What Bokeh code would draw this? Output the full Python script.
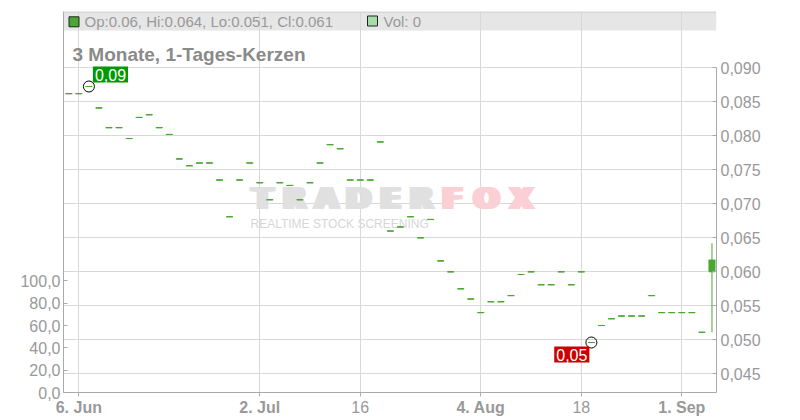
from bokeh.plotting import figure
from bokeh.models import (Range1d, LinearAxis, FixedTicker, Label, BoxAnnotation, Span,
                          ColumnDataSource, CustomJSTickFormatter)
from bokeh.core.properties import value
from bokeh.embed import file_html
from bokeh.resources import INLINE

# ---------------- data ----------------
# flat one-day candles (open = high = low = close), trading-day index 0..63
flat_prices = [0.0862, 0.0862, 0.08725, 0.0841, 0.0812, 0.0812, 0.0796, 0.0827, 0.0831, 0.0812,
               0.0802, 0.0766, 0.0756, 0.0760, 0.0760, 0.0735, 0.0681, 0.0735, 0.0760, 0.0731,
               0.0706, 0.0731, 0.0727, 0.0706, 0.0731, 0.0760, 0.0787, 0.0781, 0.0735, 0.0735,
               0.0735, 0.0791, 0.0660, 0.0666, 0.0681, 0.0650, 0.0677, 0.0616, 0.0600, 0.0575,
               0.0560, 0.0540, 0.0556, 0.0556, 0.0565, 0.0596, 0.0600, 0.0581, 0.0581, 0.0600,
               0.0581, 0.0600, 0.0496, 0.0521, 0.0531, 0.0535, 0.0535, 0.0535, 0.0565, 0.0540,
               0.0540, 0.0540, 0.0540, 0.0511]
# last candle
last_open, last_high, last_low, last_close = 0.0600, 0.0642, 0.0511, 0.0617

opens = flat_prices + [last_open]
highs = flat_prices + [last_high]
lows = flat_prices + [last_low]
closes = flat_prices + [last_close]
idx = list(range(len(closes)))

x_tick_idx = [1, 19, 29, 41, 51, 61]
x_tick_labels = ["6. Jun", "2. Jul", "16", "4. Aug", "18", "1. Sep"]
x_tick_bold = [True, True, False, True, False, True]

price_ticks = [0.045, 0.050, 0.055, 0.060, 0.065, 0.070, 0.075, 0.080, 0.085, 0.090]
vol_ticks = [0, 20, 40, 60, 80, 100]

header_text = "Op:0.06, Hi:0.064, Lo:0.051, Cl:0.061"
vol_text = "Vol: 0"
title_text = "3 Monate, 1-Tages-Kerzen"

# ---------------- layout helpers ----------------
W, H = 800, 420
X0, X1 = -0.527, 64.45
Y0, Y1 = 0.04225, 0.09828
V1 = 341.4
FL, FR, FT, FB = 63, 716, 11, 392   # frame edges in picture pixels


def ix(px):
    return X0 + (px - FL) / (FR - FL) * (X1 - X0)


def vy(py):
    return Y0 + (FB - py) / (FB - FT) * (Y1 - Y0)


GREEN = "#4aa832"
FONT = "Liberation Sans"

p = figure(width=W, height=H, output_backend="svg", toolbar_location=None,
           x_range=Range1d(X0, X1), y_range=Range1d(Y0, Y1),
           y_axis_location="right",
           min_border_left=FL, min_border_right=W - FR, min_border_top=FT, min_border_bottom=H - FB)
p.background_fill_color = "white"
p.border_fill_color = "white"
p.outline_line_color = None
p.extra_y_ranges = {"vol": Range1d(0, V1)}

# header band
p.add_layout(BoxAnnotation(bottom=vy(30), fill_color="#e6e6e6", fill_alpha=1.0,
                           line_color=None, level="image"))
p.add_layout(Span(location=vy(11.5), dimension="width", line_color="#c8c8c8", line_width=1))

# right price axis
ya = p.yaxis[0]
ya.ticker = FixedTicker(ticks=price_ticks)
ya.formatter = CustomJSTickFormatter(code="return tick.toFixed(3).replace('.', ',');")
ya.bounds = (Y0, 0.090)
ya.axis_line_color = "#aaaaaa"
ya.major_tick_line_color = "#aaaaaa"
ya.major_tick_in = 4
ya.major_tick_out = 0
ya.minor_tick_line_color = None
ya.major_label_standoff = 4
ya.major_label_text_font = FONT
ya.major_label_text_font_size = "16px"
ya.major_label_text_color = "#999999"

# left volume axis
va = LinearAxis(y_range_name="vol", ticker=FixedTicker(ticks=vol_ticks),
                formatter=CustomJSTickFormatter(code="return tick.toFixed(1).replace('.', ',');"))
va.axis_line_color = "#aaaaaa"
va.major_tick_line_color = "#aaaaaa"
va.major_tick_in = 4
va.major_tick_out = 0
va.minor_tick_line_color = None
va.major_label_standoff = 3
va.major_label_text_font = FONT
va.major_label_text_font_size = "16px"
va.major_label_text_color = "#999999"
p.add_layout(va, "left")

# bottom date axis: bold labels (month starts)
xa = p.xaxis[0]
xa.ticker = FixedTicker(ticks=x_tick_idx)
xa.major_label_overrides = {t: (lab if b else "") for t, lab, b in
                            zip(x_tick_idx, x_tick_labels, x_tick_bold)}
xa.axis_line_color = "#aaaaaa"
xa.major_tick_line_color = "#aaaaaa"
xa.major_tick_in = 0
xa.major_tick_out = 4
xa.minor_tick_line_color = None
xa.major_label_standoff = 2
xa.major_label_text_font = FONT
xa.major_label_text_font_size = "16px"
xa.major_label_text_font_style = "bold"
xa.major_label_text_color = "#999999"

# second (label-only) axis for the normal-weight day labels, pulled up into the same row
normal_ticks = [t for t, b in zip(x_tick_idx, x_tick_bold) if not b]
xb = LinearAxis(ticker=FixedTicker(ticks=normal_ticks))
xb.major_label_overrides = {t: lab for t, lab, b in zip(x_tick_idx, x_tick_labels, x_tick_bold)
                            if not b}
xb.axis_line_color = None
xb.major_tick_line_color = None
xb.minor_tick_line_color = None
xb.major_tick_in = 0
xb.major_tick_out = 0
xb.major_label_standoff = -18
xb.major_label_text_font = FONT
xb.major_label_text_font_size = "16px"
xb.major_label_text_color = "#999999"
p.add_layout(xb, "below")

p.xgrid.grid_line_color = "#d8d8d8"
p.ygrid.grid_line_color = "#d8d8d8"

# watermark
wm_letters = ["T", "R", "A", "D", "E", "R", "F", "O", "X"]
wm_px = [262, 294, 326, 358, 390, 421, 452, 486, 521]
wm_cols = ["#e0e0e0"] * 6 + ["#fbd0d4"] * 3
for off in (-3, -1.5, 0, 1.5, 3):
    p.text(x=[ix(v) for v in wm_px], y=[vy(198.3)] * 9, text=wm_letters, x_offset=off,
           text_font=value("DejaVu Sans"), text_font_style="bold", text_font_size="30px",
           text_align="center", text_baseline="alphabetic", text_color=wm_cols)
p.text(x=[ix(250)], y=[vy(223.3)], text=["REALTIME STOCK SCREENING"],
       text_font=value("Liberation Sans"), text_font_size="12px", text_align="left",
       text_baseline="alphabetic", text_color="#d6d6d6")

# candles
src = ColumnDataSource(dict(x=idx, open=opens, high=highs, low=lows, close=closes,
                            top=[max(o, c) for o, c in zip(opens, closes)],
                            bottom=[min(o, c) for o, c in zip(opens, closes)]))
p.segment(x0="x", y0="low", x1="x", y1="high", source=src, line_color=GREEN, line_width=1)
p.vbar(x="x", width=0.6, top="top", bottom="bottom", source=src,
       fill_color=GREEN, line_color=GREEN, line_width=1)
p.scatter(x="x", y="close", source=src, marker="dash", size=7, line_color=GREEN, line_width=1)

# high / low markers
hi_i = max(idx, key=lambda i: highs[i])
lo_i = min(idx, key=lambda i: lows[i])
p.scatter([hi_i, lo_i], [highs[hi_i], lows[lo_i]], marker="circle", size=11,
          fill_color=None, line_color="black", line_width=1)
p.add_layout(Label(x=hi_i, y=highs[hi_i], text=f"{round(highs[hi_i], 2)}".replace(".", ","),
                   x_offset=4, y_offset=4, text_align="left", text_baseline="bottom",
                   text_font=FONT, text_font_size="16px", text_color="white",
                   background_fill_color="#009900", padding=2))
p.add_layout(Label(x=lo_i, y=lows[lo_i], text=f"{round(lows[lo_i], 2)}".replace(".", ","),
                   x_offset=-2, y_offset=-4, text_align="right", text_baseline="top",
                   text_font=FONT, text_font_size="16px", text_color="white",
                   background_fill_color="#cc0000", padding=2))

# header legend
p.scatter([ix(73.5), ix(372)], [vy(21.3), vy(20.5)], marker="square", size=10,
          fill_color=[GREEN, "#aadcaa"], line_color="#222222", line_width=1)
p.add_layout(Label(x=ix(84), y=vy(21.3), text=header_text, text_align="left",
                   text_baseline="middle", text_font=FONT, text_font_size="15px",
                   text_color="#999999"))
p.add_layout(Label(x=ix(383), y=vy(21.3), text=vol_text, text_align="left",
                   text_baseline="middle", text_font=FONT, text_font_size="15px",
                   text_color="#999999"))
p.add_layout(Label(x=ix(72), y=vy(54.3), text=title_text, text_align="left",
                   text_baseline="alphabetic", text_font=FONT, text_font_size="19px",
                   text_font_style="bold", text_color="#8a8a8a"))

open("out.html", "w").write(file_html(p, INLINE))
